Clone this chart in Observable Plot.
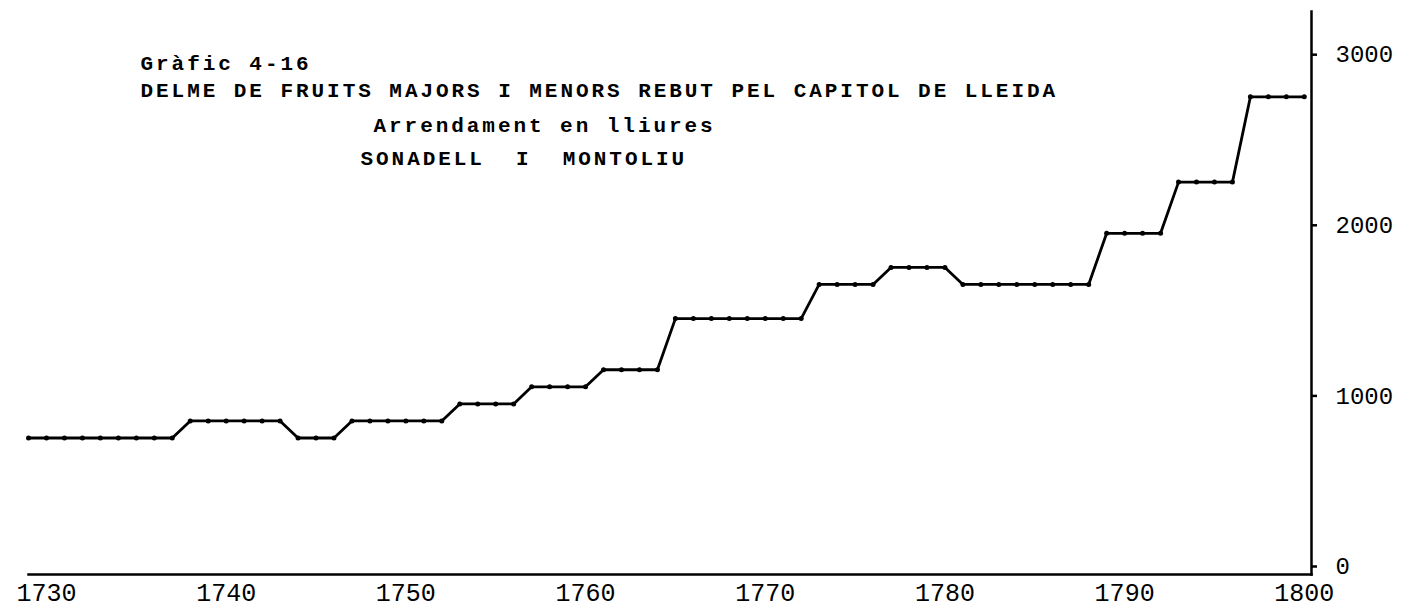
<!DOCTYPE html>
<html><head><meta charset="utf-8">
<script src="https://cdn.jsdelivr.net/npm/d3@7"></script>
<script src="https://cdn.jsdelivr.net/npm/@observablehq/plot@0.6"></script>
<style>
html,body{margin:0;padding:0;background:#fff;}
#chart{width:1416px;height:612px;overflow:hidden;}
</style></head><body><div id="chart"></div>
<script>
const years = [1729,1730,1731,1732,1733,1734,1735,1736,1737,1738,1739,1740,1741,1742,1743,1744,1745,1746,1747,1748,1749,1750,1751,1752,1753,1754,1755,1756,1757,1758,1759,1760,1761,1762,1763,1764,1765,1766,1767,1768,1769,1770,1771,1772,1773,1774,1775,1776,1777,1778,1779,1780,1781,1782,1783,1784,1785,1786,1787,1788,1789,1790,1791,1792,1793,1794,1795,1796,1797,1798,1799,1800];
const lliures = [800,800,800,800,800,800,800,800,800,900,900,900,900,900,900,800,800,800,900,900,900,900,900,900,1000,1000,1000,1000,1100,1100,1100,1100,1200,1200,1200,1200,1500,1500,1500,1500,1500,1500,1500,1500,1700,1700,1700,1700,1800,1800,1800,1800,1700,1700,1700,1700,1700,1700,1700,1700,2000,2000,2000,2000,2300,2300,2300,2300,2800,2800,2800,2800];
const xTicks = [1730,1740,1750,1760,1770,1780,1790,1800];
const yTicks = [0,1000,2000,3000];
const titleLines = ["Gràfic 4-16","DELME DE FRUITS MAJORS I MENORS REBUT PEL CAPITOL DE LLEIDA","Arrendament en lliures","SONADELL\u00a0\u00a0I\u00a0\u00a0MONTOLIU"];

const data = years.map((y,i)=>({year:y, value:lliures[i]}));
const font = "Liberation Mono";
const titleMark = (txt, dx, dy) => Plot.text([txt], {text:d=>d, frameAnchor:"top-left", dx, dy, textAnchor:"start", fontSize:21, fontWeight:"bold", fontFamily:font, fill:"black"});

const chart = Plot.plot({
  width:1416, height:612,
  marginLeft:28, marginRight:105, marginTop:11, marginBottom:38,
  style:{fontFamily:font, background:"white", color:"black"},
  x:{domain:[1729,1800.4]},
  y:{domain:[0,3300]},
  marks:[
    Plot.frame({anchor:"bottom", stroke:"black", strokeWidth:2.5}),
    Plot.frame({anchor:"right", stroke:"black", strokeWidth:2.5}),
    Plot.axisX(xTicks, {tickSize:0, tickPadding:9, fontSize:25, fontFamily:font, tickFormat:d=>String(d), label:null}),
    Plot.axisY(yTicks, {anchor:"right", tickSize:5, tickPadding:19, dy:-8, fontSize:24, fontFamily:font, strokeWidth:2.5, tickFormat:d=>String(d), label:null}),
    Plot.line(data, {x:"year", y:"value", stroke:"black", strokeWidth:2.8}),
    Plot.dot(data, {x:"year", y:"value", r:2.5, fill:"black"}),
    titleMark(titleLines[0], 112, 44),
    titleMark(titleLines[1], 112, 71),
    titleMark(titleLines[2], 345, 106),
    titleMark(titleLines[3], 332, 139)
  ]
});
d3.select(chart).selectAll("text")
  .filter(function(){ return titleLines.includes(this.textContent); })
  .style("letter-spacing", "2.95px");
document.getElementById("chart").appendChild(chart);
</script></body></html>
